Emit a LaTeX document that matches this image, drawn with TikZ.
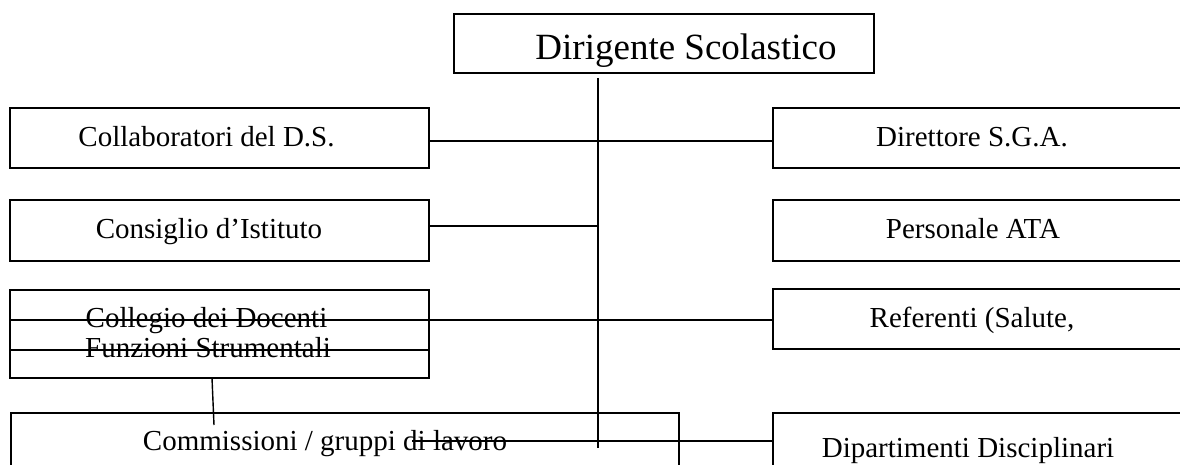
\documentclass[tikz,border=0pt]{standalone}
\usepackage{fontspec}
\setmainfont{Liberation Serif}
\tikzset{
  box/.style={draw, line width=1.4pt, inner sep=0pt},
  conn/.style={line width=1.4pt},
  lbl/.style={anchor=base, inner sep=0pt, font=\fontsize{29}{34}\selectfont},
  biglbl/.style={anchor=base, inner sep=0pt, font=\fontsize{37}{44}\selectfont},
}
\begin{document}
\begin{tikzpicture}[x=1pt,y=-1pt]
\useasboundingbox (0,0) rectangle (1180,465);
\clip (0,0) rectangle (1180,465);
% boxes
\node[box, minimum width=420pt, minimum height=59pt] (ds) at (664,43.5) {};
\node[box, minimum width=419pt, minimum height=60pt] (collab) at (219.5,138) {};
\node[box, minimum width=419pt, minimum height=61pt] (cons) at (219.5,230.5) {};
\node[box, minimum width=419pt, minimum height=88pt] (coll) at (219.5,334) {};
\node[box, minimum width=668pt, minimum height=100pt] (comm) at (345,463) {};
\node[box, minimum width=500pt, minimum height=60pt] (dir) at (1023,138) {};
\node[box, minimum width=500pt, minimum height=61pt] (ata) at (1023,230.5) {};
\node[box, minimum width=500pt, minimum height=60pt] (ref) at (1023,319) {};
\node[box, minimum width=500pt, minimum height=100pt] (dip) at (1023,463) {};
% labels
\node[biglbl] (tds) at (686,60) {Dirigente Scolastico};
\node[lbl] (tcollab) at (206.5,147) {Collaboratori del D.S.};
\node[lbl] (tcons) at (209,238) {Consiglio d’Istituto};
\node[lbl] (tcoll) at (206.5,327) {Collegio dei Docenti};
\node[lbl] (tfs) at (208,357) {Funzioni Strumentali};
\node[lbl] (tcomm) at (325,450) {Commissioni / gruppi di lavoro};
\node[lbl] (tdir) at (972,147) {Direttore S.G.A.};
\node[lbl] (tata) at (973,238) {Personale ATA};
\node[lbl] (tref) at (972,327) {Referenti (Salute,};
\node[lbl] (tdip) at (968,457) {Dipartimenti Disciplinari};
% spine and connector points
\coordinate (spTop) at (598,78);
\coordinate (spBot) at (598,448);
\coordinate (h1) at (598,141);
\coordinate (h2) at (598,226);
\coordinate (h3) at (598,320);
\coordinate (h4) at (598,350);
\coordinate (c1) at (212,378);
\coordinate (c2) at (214,425);
\coordinate (d1) at (412,441);
\draw[conn] (spTop) -- (spBot);
\draw[conn] (collab.east |- h1) -- (h1) -- (dir.west |- h1);
\draw[conn] (cons.east |- h2) -- (h2);
\draw[conn] (coll.west |- h3) -- (h3) -- (ref.west |- h3);
\draw[conn] (coll.west |- h4) -- (coll.east |- h4);
\draw[conn] (c1) -- (c2);
\draw[conn] (d1) -- (dip.west |- d1);
\end{tikzpicture}
\end{document}
